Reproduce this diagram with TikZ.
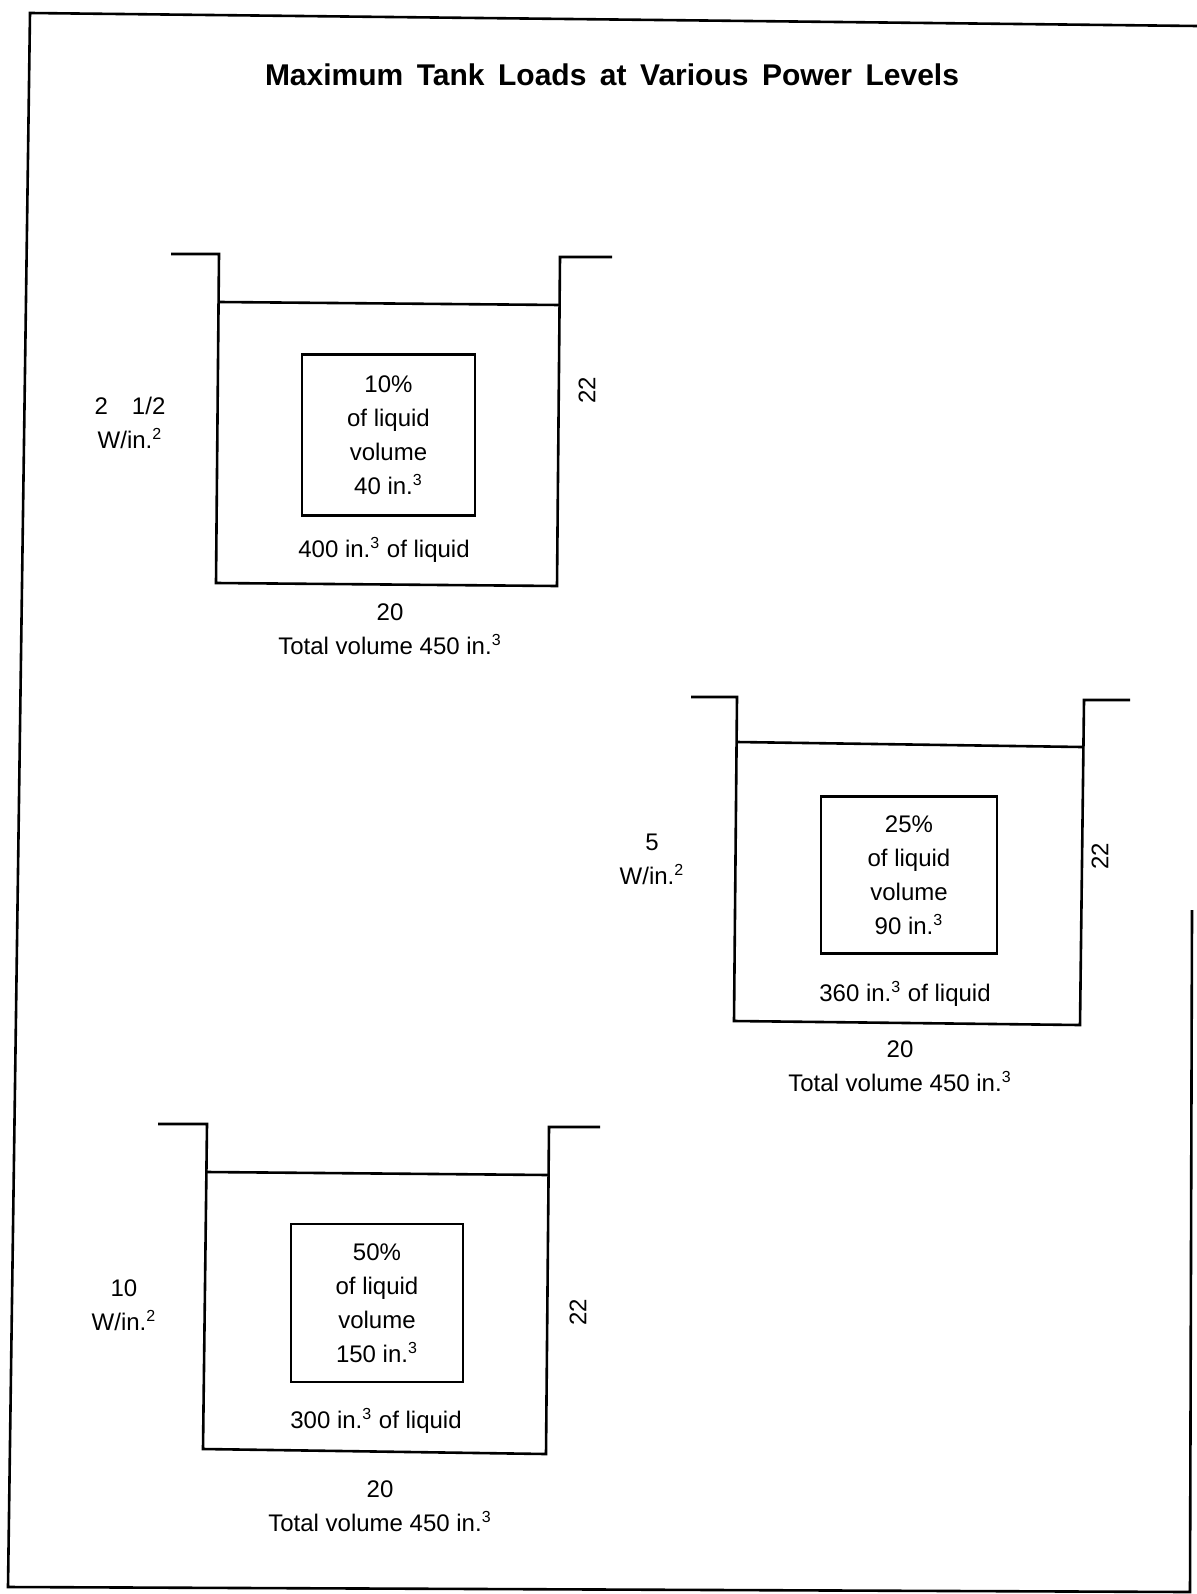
\documentclass[tikz,border=0pt]{standalone}
\usepackage{fontspec}
\setmainfont{Liberation Sans}
\begin{document}
\begin{tikzpicture}[x=0.5pt,y=-0.5pt,
  ln/.style={line width=1.3pt, line join=miter},
  txt/.style={font=\fontsize{12}{17}\selectfont, inner sep=0pt, align=center},
  ibox/.style={draw, line width=1.3pt, align=center, inner sep=0pt,
    font=\fontsize{12}{17}\selectfont},
  dimlabel/.style={font=\fontsize{12}{14}\selectfont, inner sep=0pt, rotate=90}
]
\useasboundingbox (0,0) rectangle (1197,1594);
% outer frame
\draw[ln] (1197,26) -- (30,13) -- (8,1587) -- (1190,1592) -- (1192,910);
% title
\node[font=\bfseries\fontsize{15}{18}\selectfont, inner sep=0pt] (title) at (612,75)
  {Maximum\hspace{0.45em}Tank\hspace{0.45em}Loads\hspace{0.45em}at\hspace{0.45em}Various\hspace{0.45em}Power\hspace{0.45em}Levels};

% ---------- Tank 1 ----------
\draw[ln] (171,254) -- (219,254) -- (216,583) -- (557,586) -- (560,257) -- (612,257);
\draw[ln] (219,302) -- (560,305);
\node[ibox, minimum width=86.5pt, minimum height=80.5pt] (b1) at (388.5,435)
  {10\%\\of liquid\\volume\\40 in.\textsuperscript{3}};
\node[txt] (l1) at (384,550) {400 in.\textsuperscript{3} of liquid};
\node[dimlabel] (h1) at (587,390) {22};
\node[txt] (p1) at (130,423) {2\quad 1/2\\W/in.\textsuperscript{2}};
\node[txt] (w1) at (390,629) {20\\Total volume 450 in.\textsuperscript{3}};

% ---------- Tank 2 ----------
\draw[ln] (691,697) -- (737,697) -- (734,1021) -- (1080,1025) -- (1084,700) -- (1130,700);
\draw[ln] (737,742) -- (1082,747);
\node[ibox, minimum width=88pt, minimum height=78.5pt] (b2) at (909,875)
  {25\%\\of liquid\\volume\\90 in.\textsuperscript{3}};
\node[txt] (l2) at (905,994) {360 in.\textsuperscript{3} of liquid};
\node[dimlabel] (h2) at (1100,856) {22};
\node[txt] (p2) at (652,859) {5\\W/in.\textsuperscript{2}};
\node[txt] (w2) at (900,1066) {20\\Total volume 450 in.\textsuperscript{3}};

% ---------- Tank 3 ----------
\draw[ln] (158,1124) -- (207,1124) -- (203,1449) -- (546,1454) -- (549,1127) -- (600,1127);
\draw[ln] (207,1172) -- (549,1175);
\node[ibox, minimum width=86pt, minimum height=79pt] (b3) at (377,1303)
  {50\%\\of liquid\\volume\\150 in.\textsuperscript{3}};
\node[txt] (l3) at (376,1421) {300 in.\textsuperscript{3} of liquid};
\node[dimlabel] (h3) at (578,1312) {22};
\node[txt] (p3) at (124,1305) {10\\W/in.\textsuperscript{2}};
\node[txt] (w3) at (380,1506) {20\\Total volume 450 in.\textsuperscript{3}};
\end{tikzpicture}
\end{document}
